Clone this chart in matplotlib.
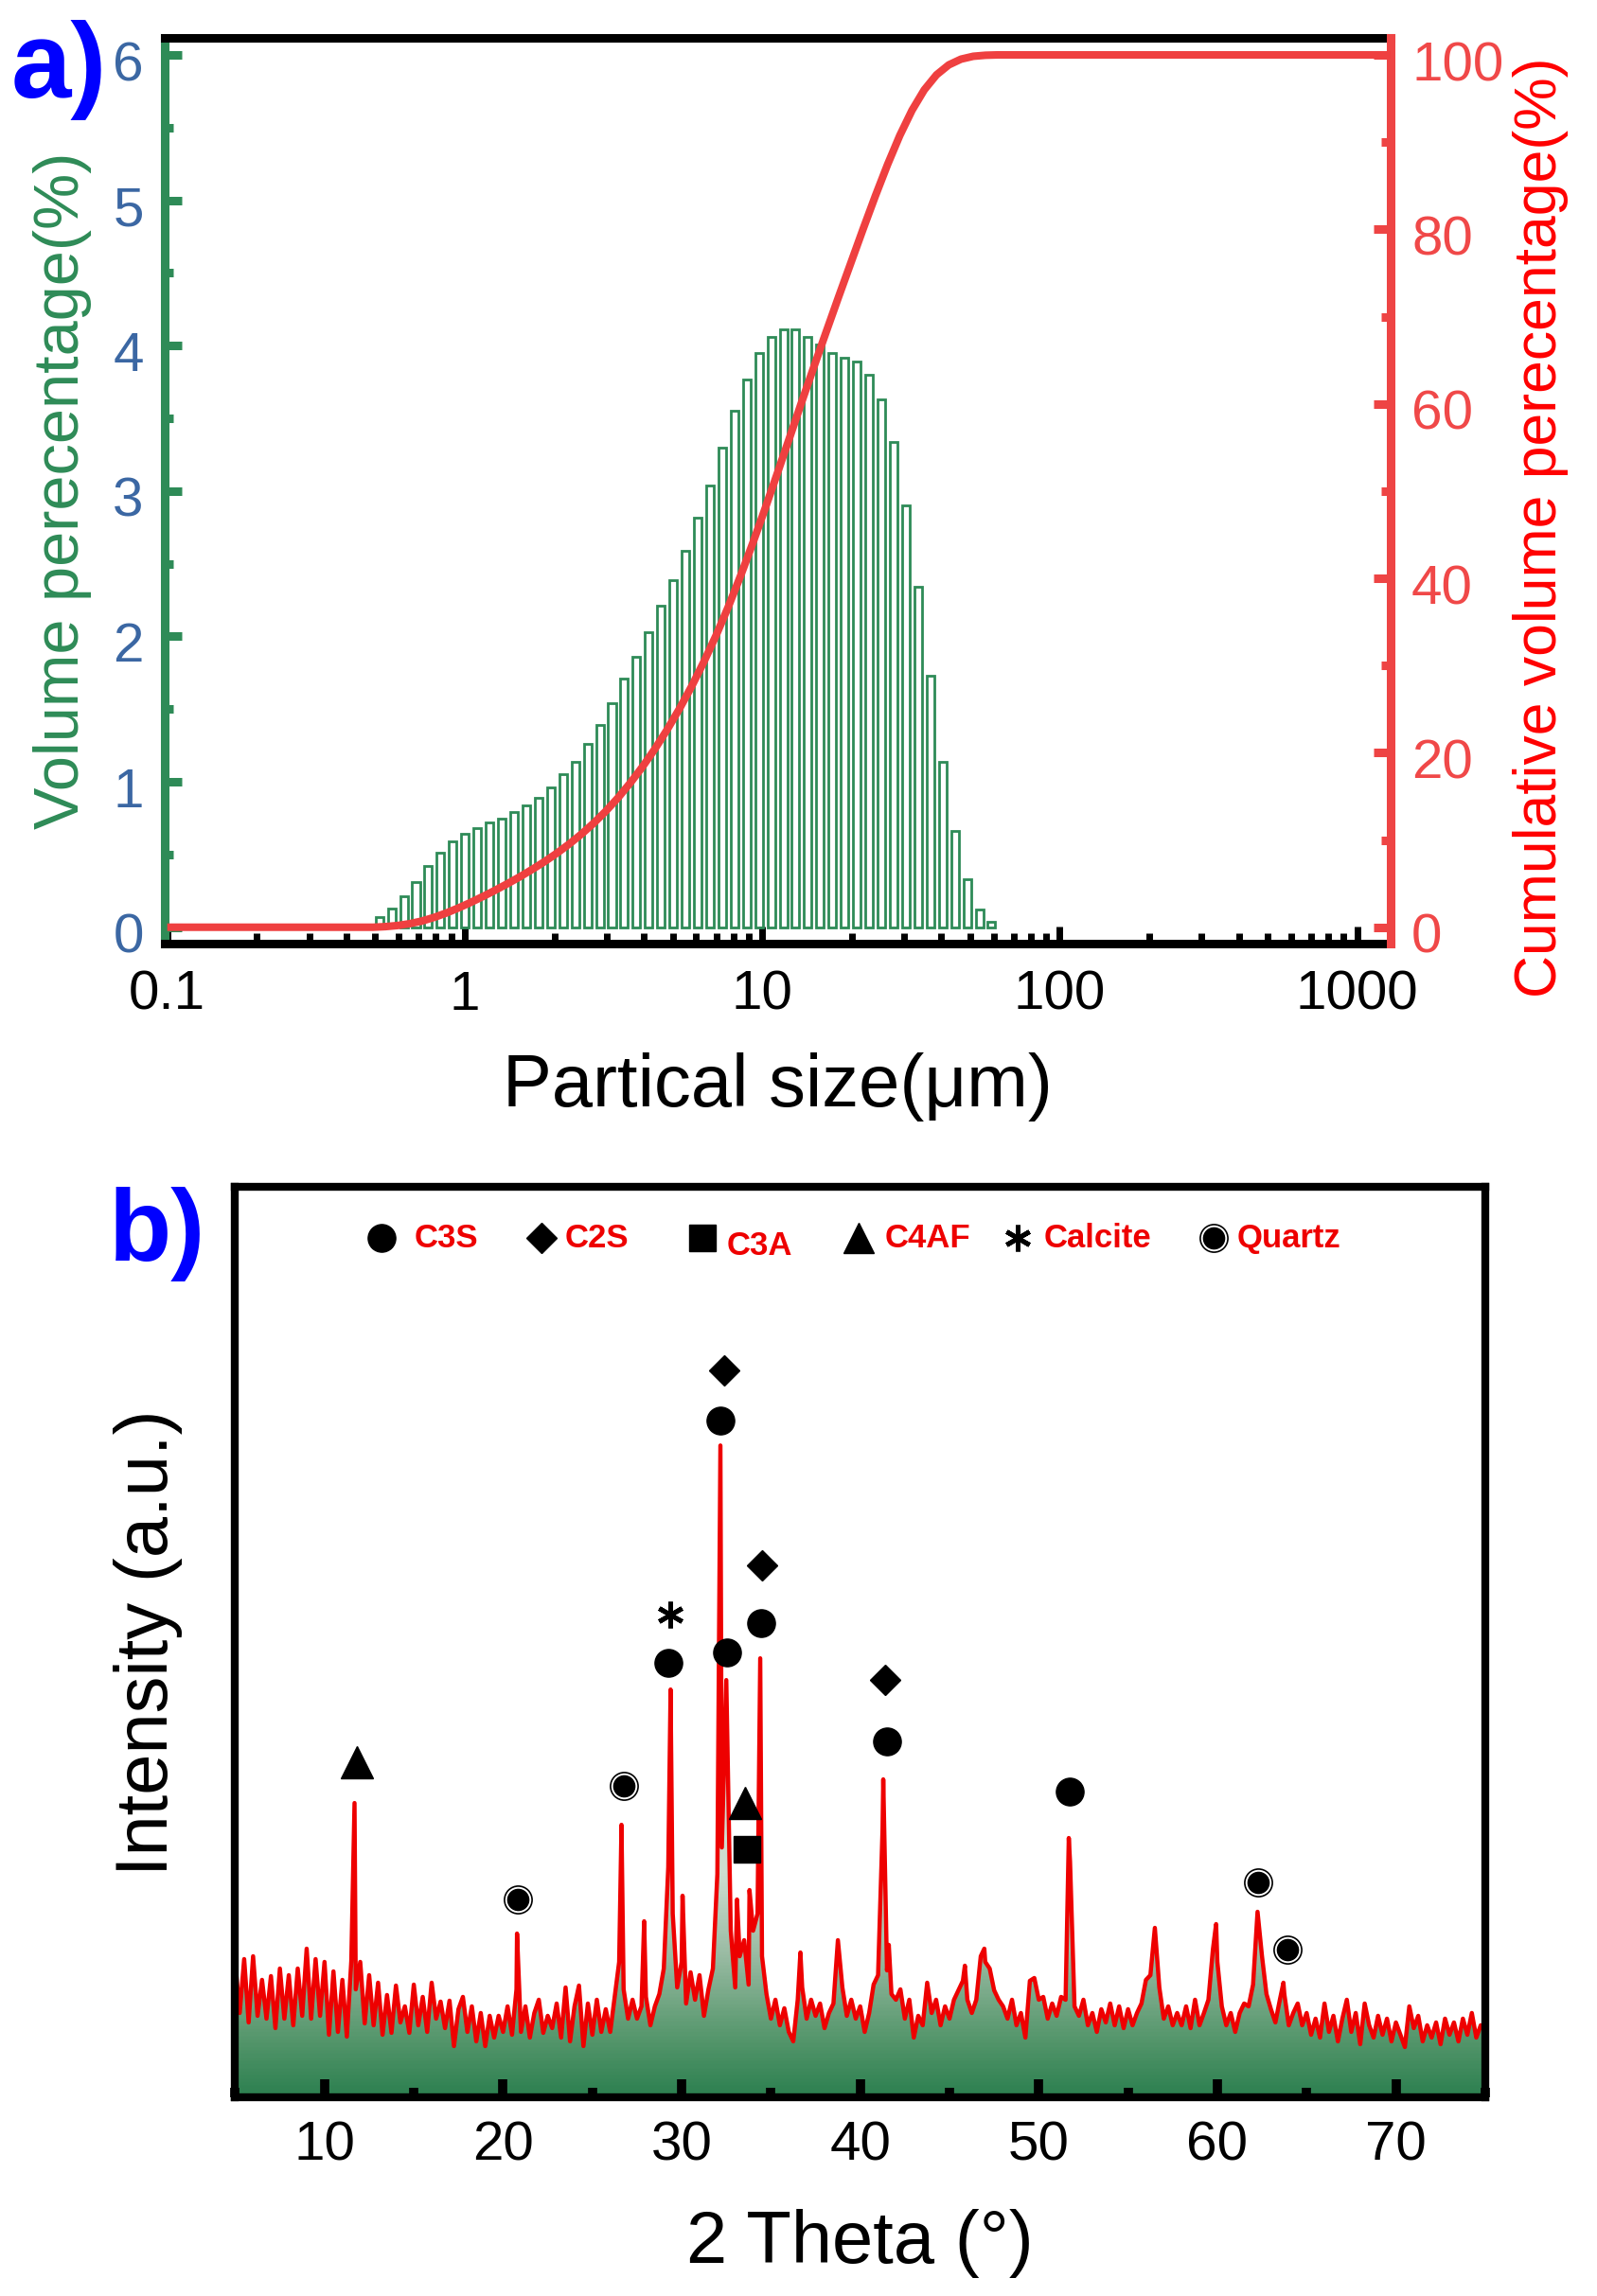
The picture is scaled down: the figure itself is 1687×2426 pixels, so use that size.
import numpy as np
import matplotlib.pyplot as plt
from matplotlib.colors import LinearSegmentedColormap, Normalize
from matplotlib.transforms import ScaledTranslation
from matplotlib.ticker import FixedLocator, MultipleLocator, LogLocator, FuncFormatter, NullFormatter

plt.rcParams['font.family'] = ['Liberation Sans', 'DejaVu Sans']

# ---------------- panel a: particle size distribution ----------------
sizes = [0.516, 0.568, 0.624, 0.686, 0.754, 0.829, 0.912, 1.003, 1.102, 1.212,
         1.332, 1.465, 1.610, 1.771, 1.946, 2.140, 2.353, 2.587, 2.844, 3.126,
         3.437, 3.779, 4.155, 4.568, 5.022, 5.521, 6.070, 6.673, 7.337, 8.066,
         8.868, 9.750, 10.72, 11.79, 12.95, 14.24, 15.66, 17.21, 18.93, 20.81,
         22.88, 25.16, 27.66, 30.41, 33.42, 36.75, 40.40, 44.41, 48.83, 53.69,
         59.02]
volume = [0.07, 0.13, 0.21, 0.31, 0.42, 0.51, 0.59, 0.64, 0.68, 0.72,
          0.75, 0.79, 0.84, 0.89, 0.96, 1.05, 1.14, 1.26, 1.39, 1.54,
          1.71, 1.86, 2.03, 2.21, 2.39, 2.59, 2.82, 3.04, 3.30, 3.55,
          3.77, 3.95, 4.06, 4.11, 4.11, 4.06, 4.01, 3.95, 3.92, 3.89,
          3.80, 3.63, 3.34, 2.90, 2.34, 1.73, 1.14, 0.66, 0.33, 0.12,
          0.04]
size_ticks = [0.1, 1, 10, 100, 1000]

# ---------------- panel b: XRD pattern ----------------
scan_2theta = np.arange(5.0, 75.001, 0.25)   # step scan, 0.25 deg
scan_int = [139, 85, 142, 75, 145, 82, 120, 79, 124, 69, 132, 79, 125, 72, 132, 82, 153, 79, 142, 82,
            139, 62, 129, 65, 120, 60, 140, 110, 139, 74, 125, 72, 117, 62, 104, 64, 114, 75, 92, 64,
            115, 72, 102, 65, 117, 79, 97, 69, 98, 50, 89, 102, 65, 92, 55, 85, 50, 82, 59, 82,
            65, 92, 62, 110, 65, 92, 59, 85, 99, 64, 82, 69, 95, 59, 112, 55, 92, 114, 50, 95,
            62, 99, 65, 89, 65, 102, 139, 110, 79, 99, 79, 92, 102, 72, 92, 105, 132, 239, 190, 112,
            139, 95, 128, 99, 125, 82, 110, 132, 232, 260, 437, 172, 112, 145, 162, 115, 172, 190, 145, 105,
            79, 99, 72, 90, 65, 55, 99, 112, 79, 99, 82, 95, 69, 85, 95, 162, 112, 82, 99, 79,
            92, 65, 85, 115, 125, 279, 130, 105, 99, 110, 79, 99, 59, 82, 72, 117, 85, 99, 72, 92,
            79, 99, 109, 119, 99, 85, 99, 145, 139, 132, 109, 99, 92, 79, 99, 72, 85, 59, 119, 122,
            99, 102, 79, 95, 82, 102, 99, 245, 92, 82, 99, 72, 85, 65, 89, 75, 95, 72, 92, 69,
            89, 72, 85, 95, 120, 125, 175, 112, 79, 92, 72, 85, 72, 92, 69, 99, 72, 85, 99, 152,
            139, 92, 72, 85, 65, 85, 95, 92, 115, 192, 145, 105, 89, 75, 99, 105, 72, 85, 95, 72,
            85, 62, 79, 59, 95, 65, 82, 55, 79, 99, 65, 85, 52, 95, 72, 59, 82, 62, 79, 55,
            75, 62, 49, 92, 69, 82, 55, 72, 59, 75, 52, 79, 62, 75, 55, 79, 62, 85, 59, 72,
            65]
peak_2theta = [11.68, 20.78, 26.63, 27.90, 29.38, 30.05, 32.17, 33.10, 33.80, 34.40,
               36.65, 41.29, 41.60, 45.86, 46.95, 51.68, 59.93, 63.70]
peak_int = [307, 169, 284, 182, 427, 209, 685, 205, 215, 460,
            149, 332, 157, 135, 153, 270, 179, 117]

# phase markers (2theta, intensity)
c3s_x = [29.23, 32.17, 32.54, 34.44, 41.48, 51.75]
c3s_y = [455, 711, 466, 497, 372, 319]
c2s_x = [32.37, 34.50, 41.37]
c2s_y = [764, 558, 437]
c3a_x = [33.65]
c3a_y = [258]
c4af_x = [11.82, 33.55]
c4af_y = [350, 307]
calcite_x = [29.35]
calcite_y = [506]
quartz_x = [20.85, 26.75, 62.28, 63.90]
quartz_y = [205, 325, 223, 152]

GREEN = '#2E8B57'
RED = '#EE4444'
BLUE_TICK = '#3B67A3'

fig = plt.figure(figsize=(16.87, 24.26), dpi=100)
shift_down = ScaledTranslation(0, -0.06, fig.dpi_scale_trans)

# ======== panel a ========
ax1 = fig.add_axes([0.1031, 0.5890, 0.7676, 0.3945])
ax2 = ax1.twinx()
ax1.set_xscale('log')
xmin, xmax = 0.098, 1294

logc = np.log10(sizes)
step = np.mean(np.diff(logc))
left = 10 ** (logc - 0.31 * step)
right = 10 ** (logc + 0.31 * step)
ax1.bar(left, volume, width=right - left, align='edge', facecolor='none',
        edgecolor=GREEN, linewidth=2.0, zorder=2)

cum = np.cumsum(volume) / np.sum(volume) * 100
cx = np.concatenate([[0.1, 10 ** (logc[0] - step / 2)], 10 ** (logc + step / 2), [xmax]])
cy = np.concatenate([[0, 0], cum, [100]])
ax2.plot(cx, cy, color='#EF4040', lw=5.8, solid_capstyle='butt', zorder=3)

ax1.set_xlim(xmin, xmax)
ax1.set_ylim(-0.113, 6.117)
ax2.set_ylim(-0.113 * 100 / 6, 6.117 * 100 / 6)

ax1.xaxis.set_major_locator(FixedLocator(size_ticks))
ax1.xaxis.set_major_formatter(FuncFormatter(lambda v, p: '%g' % v))
ax1.xaxis.set_minor_locator(LogLocator(base=10, subs=np.arange(2, 10), numticks=20))
ax1.xaxis.set_minor_formatter(NullFormatter())
ax1.yaxis.set_major_locator(FixedLocator([0, 1, 2, 3, 4, 5, 6]))
ax1.yaxis.set_minor_locator(MultipleLocator(0.5))
ax2.yaxis.set_major_locator(FixedLocator([0, 20, 40, 60, 80, 100]))
ax2.yaxis.set_minor_locator(MultipleLocator(10))

for sp in ['top', 'bottom']:
    ax1.spines[sp].set_linewidth(6.5)
    ax1.spines[sp].set_color('black')
ax1.spines['left'].set_linewidth(6.5)
ax1.spines['left'].set_color(GREEN)
ax1.spines['right'].set_visible(False)
for sp in ['top', 'bottom', 'left']:
    ax2.spines[sp].set_visible(False)
ax2.spines['right'].set_linewidth(6.5)
ax2.spines['right'].set_color(RED)

ax1.tick_params(axis='x', which='major', direction='in', length=13, width=5,
                color='black', labelsize=42, pad=20, top=False)
ax1.tick_params(axis='x', which='minor', direction='in', length=8, width=5,
                color='black', top=False)
ax1.tick_params(axis='y', which='major', direction='in', length=13, width=6.5,
                color=GREEN, labelcolor=BLUE_TICK, labelsize=42, pad=16)
ax1.tick_params(axis='y', which='minor', direction='in', length=6.5, width=6.5, color=GREEN)
ax2.tick_params(axis='y', which='major', direction='in', length=13, width=6.5,
                color=RED, labelcolor='#F04848', labelsize=42, pad=16)
ax2.tick_params(axis='y', which='minor', direction='in', length=7, width=6.5, color=RED)

for lab in ax1.get_yticklabels() + ax2.get_yticklabels():
    lab.set_transform(lab.get_transform() + shift_down)

ax1.set_xlabel('Partical size(\u03bcm)', fontsize=56, labelpad=24)
ax1.set_ylabel('Volume perecentage(%)', fontsize=48, color=GREEN, labelpad=16)
fig.text(0.965, 0.7704, 'Cumulative volume perecentage(%)', fontsize=45, color='#FF0000',
         rotation=90, ha='center', va='center')

fig.text(0.007, 0.9915, 'a)', fontsize=82, fontweight='bold', color='#0000FF',
         ha='left', va='top')

# ======== panel b ========
axb = fig.add_axes([0.1473, 0.0866, 0.7827, 0.3963])
tt = np.concatenate([scan_2theta, peak_2theta])
ii = np.concatenate([scan_int, peak_int])
order = np.argsort(tt)
tt, ii = tt[order], ii[order]

y0, y1 = -4, 958
green_cmap = LinearSegmentedColormap.from_list('xrdfill', [
    (0.0, (45 / 255, 128 / 255, 80 / 255)),
    ((60 - y0) / (y1 - y0), (88 / 255, 152 / 255, 110 / 255)),
    ((140 - y0) / (y1 - y0), (150 / 255, 185 / 255, 160 / 255)),
    ((230 - y0) / (y1 - y0), (205 / 255, 220 / 255, 208 / 255)),
    (1.0, (236 / 255, 240 / 255, 237 / 255))])
fill = axb.fill_between(tt, ii, y0, facecolor='none', edgecolor='none')
grad = np.linspace(y0, y1, 600).reshape(-1, 1)
img = axb.imshow(grad, extent=[5, 75, y0, y1], origin='lower', aspect='auto',
                 cmap=green_cmap, norm=Normalize(y0, y1), zorder=1, interpolation='bilinear')
img.set_clip_path(fill.get_paths()[0], transform=axb.transData)
axb.plot(tt, ii, color='#EE0000', lw=3.2, zorder=2)

mk = dict(linestyle='none', color='black', zorder=4)
axb.plot(c3s_x, c3s_y, marker='o', markersize=21, **mk)
axb.plot(c2s_x, c2s_y, marker='D', markersize=16.5, **mk)
axb.plot(c3a_x, c3a_y, marker='s', markersize=20, **mk)
axb.plot(c4af_x, c4af_y, marker='^', markersize=24, **mk)
axb.plot(calcite_x, calcite_y, marker=(6, 2, 0), markersize=20, markeredgewidth=3.5, **mk)
axb.plot(quartz_x, quartz_y, marker='o', markersize=21, markerfacecolor='white',
         markeredgecolor='black', markeredgewidth=1.2, linestyle='none', zorder=4)
axb.plot(quartz_x, quartz_y, marker='o', markersize=16, **mk)

axb.set_xlim(5, 75)
axb.set_ylim(y0, y1)

# legend row
ly = 0.944
legend_items = [('o', 21, 0.117, 'C3S', 0.143, ly),
                ('D', 16.5, 0.245, 'C2S', 0.264, ly),
                ('s', 20, 0.374, 'C3A', 0.393, ly - 0.008),
                ('^', 23, 0.499, 'C4AF', 0.520, ly),
                ((6, 2, 0), 20, 0.626, 'Calcite', 0.647, ly),
                ('o', 21, 0.783, 'Quartz', 0.801, ly)]
for m, ms, mx, label, tx, ty in legend_items:
    if label == 'Quartz':
        axb.plot([mx], [ly], transform=axb.transAxes, marker='o', markersize=21,
                 markerfacecolor='white', markeredgecolor='black', markeredgewidth=1.2,
                 linestyle='none', clip_on=False)
        axb.plot([mx], [ly], transform=axb.transAxes, marker='o', markersize=16,
                 color='black', linestyle='none', clip_on=False)
    else:
        axb.plot([mx], [ly], transform=axb.transAxes, marker=m, markersize=ms,
                 markeredgewidth=3.5 if label == 'Calcite' else 1, color='black',
                 linestyle='none', clip_on=False)
    axb.text(tx, ty, label, transform=axb.transAxes, color='#EE0000', fontsize=25,
             fontweight='bold', ha='left', va='center')

for sp in axb.spines.values():
    sp.set_linewidth(6)
    sp.set_color('black')
axb.set_yticks([])
axb.xaxis.set_major_locator(MultipleLocator(10))
axb.xaxis.set_minor_locator(MultipleLocator(5))
axb.tick_params(axis='x', which='major', direction='in', length=14, width=7,
                labelsize=42, pad=18, top=False)
axb.tick_params(axis='x', which='minor', direction='in', length=7, width=7, top=False)
axb.set_xlabel('2 Theta (\u00b0)', fontsize=56, labelpad=28)
axb.set_ylabel('Intensity (a.u.)', fontsize=56, labelpad=40)

fig.text(0.0680, 0.4830, 'b)', fontsize=78, fontweight='bold', color='#0000FF',
         ha='left', va='top')

fig.savefig('out.png', dpi=100)
